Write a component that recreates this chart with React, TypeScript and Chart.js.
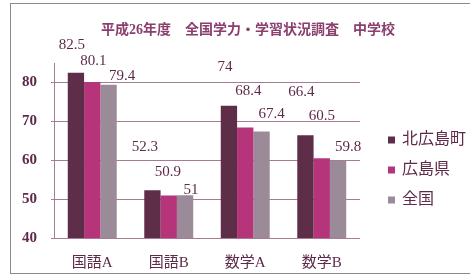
import React, { useEffect, useRef } from "react";
import { Chart, registerables } from "chart.js";

Chart.register(...registerables);

const categories = ["国語A", "国語B", "数学A", "数学B"];
const seriesNames = ["北広島町", "広島県", "全国"];
const kitahiroshima = [82.5, 52.3, 74, 66.4];
const hiroshima = [80.1, 50.9, 68.4, 60.5];
const zenkoku = [79.4, 51, 67.4, 59.8];
const yTicks = [40, 50, 60, 70, 80];
const titleText = "平成26年度　全国学力・学習状況調査　中学校";

// label nudges (px) relative to the top-centre of each bar
const labelDx = [
  [-4, -7.5, -4, -4],
  [1, -1, 3, 0],
  [13.5, 6, 10, 10],
];
const labelDy = [
  [-28, -43, -39, -43],
  [-21, -24, -36, -42],
  [-8.5, -5, -17, -14],
];

const colors = ["#5e2e48", "#b5347a", "#9b8b98"];
const textColor = "#5e2a4a";
const gridColor = "#a77a95";
const serif = "'Liberation Serif', 'DejaVu Serif', 'Noto Sans CJK JP', serif";

const labelPlugin = {
  id: "valueLabels",
  afterDatasetsDraw(chart: any) {
    const ctx = chart.ctx;
    ctx.save();
    ctx.font = `15px ${serif}`;
    ctx.fillStyle = textColor;
    ctx.textAlign = "center";
    ctx.textBaseline = "middle";
    chart.data.datasets.forEach((ds: any, i: number) => {
      const meta = chart.getDatasetMeta(i);
      meta.data.forEach((el: any, j: number) => {
        ctx.fillText(String(ds.data[j]), el.x + labelDx[i][j], el.y + labelDy[i][j]);
      });
    });
    ctx.restore();
  },
};

const legendPlugin = {
  id: "sideLegend",
  afterDraw(chart: any) {
    const ctx = chart.ctx;
    const area = chart.chartArea;
    const x0 = area.right + 28;
    const y0 = area.top + 77;
    ctx.save();
    ctx.font = `16px ${serif}`;
    ctx.textBaseline = "middle";
    ctx.textAlign = "left";
    chart.data.datasets.forEach((ds: any, i: number) => {
      const y = y0 + i * 30;
      ctx.fillStyle = ds.backgroundColor;
      ctx.fillRect(x0, y - 3.5, 7, 7);
      ctx.fillStyle = textColor;
      ctx.fillText(ds.label, x0 + 14, y);
    });
    ctx.restore();
  },
};

export default function App() {
  const ref = useRef<HTMLCanvasElement>(null);
  useEffect(() => {
    const chart = new Chart(ref.current as HTMLCanvasElement, {
      type: "bar",
      data: {
        labels: categories,
        datasets: [kitahiroshima, hiroshima, zenkoku].map((d, i) => ({
          label: seriesNames[i],
          data: d,
          backgroundColor: colors[i],
          borderWidth: 0,
          categoryPercentage: 0.64,
          barPercentage: 1.0,
        })),
      },
      options: {
        responsive: false,
        animation: false,
        layout: { padding: { left: 6, right: 0, top: 0, bottom: 1 } },
        plugins: {
          legend: { display: false },
          tooltip: { enabled: false },
          title: {
            display: true,
            text: titleText,
            color: "#8a3f6e",
            font: { family: serif, size: 14 },
            padding: { top: 17.6, bottom: 24.6 },
          },
        },
        scales: {
          x: {
            grid: { display: false, drawTicks: false },
            border: { display: false },
            ticks: {
              color: textColor,
              font: { family: serif, size: 15 },
              padding: 16,
            },
            afterFit: (s: any) => {
              s.height = 34;
            },
          },
          y: {
            min: 40,
            max: 85,
            afterBuildTicks: (s: any) => {
              s.ticks = yTicks.map((v) => ({ value: v }));
            },
            afterFit: (s: any) => {
              s.width = 37;
            },
            grid: { color: gridColor, tickLength: 3, lineWidth: 1 },
            border: { display: true, color: gridColor, width: 1 },
            ticks: {
              color: textColor,
              font: { family: serif, size: 15, weight: "bold" },
              padding: 14,
            },
          },
          yR: {
            position: "right",
            display: true,
            grid: { display: false },
            border: { display: false },
            ticks: { display: false },
            afterFit: (s: any) => {
              s.width = 119;
            },
          },
        },
      },
      plugins: [labelPlugin, legendPlugin],
    } as any);
    return () => chart.destroy();
  }, []);
  return (
    <div
      style={{
        position: "fixed",
        left: 0,
        top: 0,
        width: "100vw",
        height: "100vh",
        overflow: "hidden",
        background: "#fff",
      }}
    >
      <div
        style={{
          position: "absolute",
          left: 10,
          top: 3,
          width: 468,
          height: 269,
          border: "1px solid #8a8a8a",
          background: "#fff",
        }}
      >
        <canvas ref={ref} width={468} height={269} style={{ display: "block" }} />
      </div>
    </div>
  );
}
